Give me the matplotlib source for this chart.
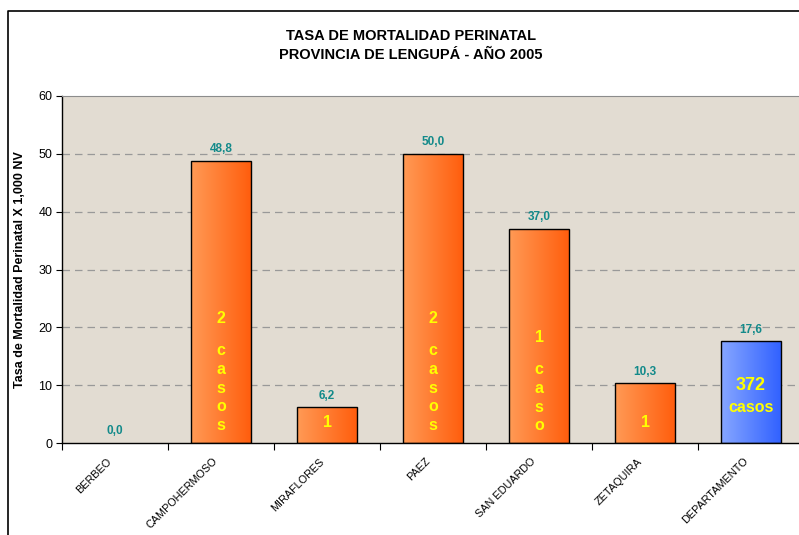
import numpy as np
import matplotlib
matplotlib.use('Agg')
from matplotlib import pyplot as plt
from matplotlib.colors import LinearSegmentedColormap
from matplotlib.lines import Line2D

plt.rcParams['font.family'] = ['Liberation Sans', 'DejaVu Sans']

municipios = ['BERBEO', 'CAMPOHERMOSO', 'MIRAFLORES', 'PAEZ', 'SAN EDUARDO', 'ZETAQUIRA', 'DEPARTAMENTO']
tasas = [0.0, 48.8, 6.2, 50.0, 37.0, 10.3, 17.6]
# texto dentro de cada barra: numero de casos y palabra
casos_num = ['', '2', '1', '2', '1', '1', '372']
casos_txt = ['', 'casos', '', 'casos', 'caso', '', 'casos']
# posiciones (en datos) de los textos internos
num_y = [0, 21.6, 3.5, 21.6, 18.3, 3.6, 9.9]
txt_y = [0, 9.5, 0, 9.5, 7.8, 0, 6.1]

W, H = 799, 535
fig = plt.figure(figsize=(W / 100, H / 100), dpi=100)

# axes en pixeles: izquierda 62, derecha ~804 (se corta), arriba 96, abajo 443
left, right, top, bottom = 62, 804, 96, 443
ax = fig.add_axes([left / W, 1 - bottom / H, (right - left) / W, (bottom - top) / H])
ax.set_facecolor('#E2DCD2')

n = len(municipios)
x = np.arange(n)

orange = LinearSegmentedColormap.from_list('og', ['#FF9A55', '#FF5E0E'])
blue = LinearSegmentedColormap.from_list('bl', ['#86A6FF', '#3262FF'])
grad = np.linspace(0, 1, 64).reshape(1, -1)

bw = 0.56
bars = ax.bar(x, tasas, width=bw, color='none', edgecolor='black', linewidth=1.0, zorder=3)
for i, b in enumerate(bars):
    if tasas[i] <= 0:
        b.set_linewidth(0)
        continue
    cm = blue if municipios[i] == 'DEPARTAMENTO' else orange
    im = ax.imshow(grad, cmap=cm, aspect='auto', zorder=2,
                   extent=[b.get_x(), b.get_x() + bw, 0, tasas[i]])
    im.set_clip_path(b)
ax.set_xlim(-0.5, n - 0.5)
ax.set_ylim(0, 60)

for i in range(n):
    ax.annotate(f'{tasas[i]:.1f}'.replace('.', ','), (x[i], tasas[i]),
                xytext=(0, 4), textcoords='offset points', ha='center', va='bottom',
                fontsize=8.5, fontweight='bold', color='#138A8A', zorder=5)
    is_dep = municipios[i] == 'DEPARTAMENTO'
    if casos_num[i]:
        ax.text(x[i], num_y[i], casos_num[i], ha='center', va='center',
                fontsize=13 if is_dep else 11.5, fontweight='bold', color='#FFFF00', zorder=5)
    if casos_txt[i]:
        word = casos_txt[i] if is_dep else '\n'.join(casos_txt[i])
        ax.text(x[i], txt_y[i], word, ha='center', va='center', linespacing=1.3,
                fontsize=11.5, fontweight='bold', color='#FFFF00', zorder=5)

# rejilla
ax.set_yticks(range(0, 61, 10))
for yv in range(10, 60, 10):
    ax.axhline(yv, color='#999999', linestyle=(0, (6, 4)), linewidth=0.9, zorder=1)
ax.tick_params(axis='y', labelsize=9, length=4, direction='out', pad=3)

ax.set_xticks(np.arange(-0.5, n - 0.5, 1.0))
ax.set_xticklabels([])
ax.tick_params(axis='x', length=5, direction='out')
for i in range(n):
    ax.annotate(municipios[i], (x[i], 0), xytext=(-6, -9.5), textcoords='offset points',
                rotation=45, rotation_mode='anchor', ha='right', va='top', fontsize=7.8)

ax.spines['right'].set_visible(False)
ax.spines['top'].set_color('#8C8C8C')
ax.spines['left'].set_linewidth(1.0)
ax.spines['bottom'].set_linewidth(1.0)

ax.set_ylabel('Tasa de Mortalidad Perinatal X 1,000 NV', fontsize=9, fontweight='bold')
ax.yaxis.set_label_coords(-(62 - 26) / (right - left), 0.5)

fig.text(411 / W, 1 - 36 / H, 'TASA DE MORTALIDAD PERINATAL', ha='center', va='center',
         fontsize=10.5, fontweight='bold')
fig.text(411 / W, 1 - 55 / H, 'PROVINCIA DE LENGUPÁ - AÑO 2005', ha='center', va='center',
         fontsize=10.5, fontweight='bold')

# borde del grafico
fig.add_artist(Line2D([8 / W, 8 / W, 1], [0, 1 - 11 / H, 1 - 11 / H], color='black', linewidth=1.2))

fig.savefig('out.png', dpi=100)
